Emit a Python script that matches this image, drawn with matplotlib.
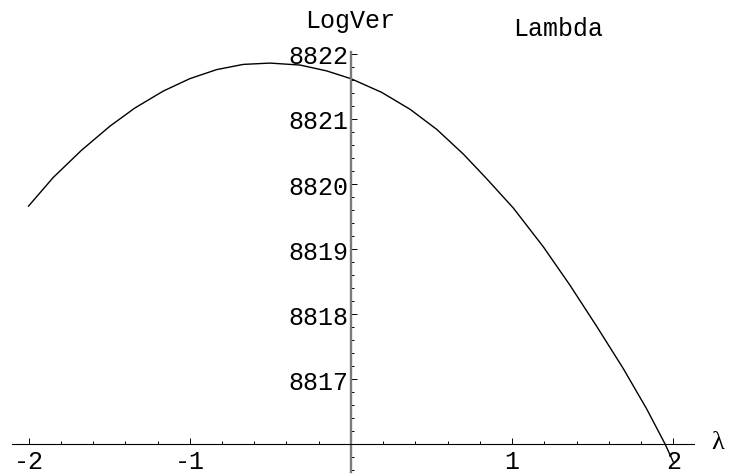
import numpy as np
import matplotlib
matplotlib.use("Agg")
import matplotlib.pyplot as plt
from matplotlib.ticker import FixedLocator

# data
lam = [-2.0, -1.847, -1.671, -1.495, -1.340, -1.164, -1.0, -0.833, -0.668, -0.502,
       -0.316, -0.151, 0.0, 0.19, 0.366, 0.532, 0.697, 0.842, 1.007, 1.194,
       1.359, 1.524, 1.689, 1.834, 1.948, 2.0]
logver = [8819.66, 8820.10, 8820.52, 8820.89, 8821.17, 8821.43, 8821.62, 8821.76,
          8821.84, 8821.86, 8821.83, 8821.74, 8821.62, 8821.41, 8821.15, 8820.84,
          8820.46, 8820.08, 8819.63, 8819.03, 8818.44, 8817.81, 8817.16, 8816.54,
          8816.0, 8815.72]
x_ticks = [-2, -1, 1, 2]
x_tick_labels = ["-2", "-1", "1", "2"]
y_ticks = [8817, 8818, 8819, 8820, 8821, 8822]
y_tick_labels = ["8817", "8818", "8819", "8820", "8821", "8822"]

MONO = "Liberation Mono"
FS = 18

fig = plt.figure(figsize=(7.31, 4.77), dpi=100)
ax = fig.add_axes([0, 0, 1, 1])
ax.patch.set_alpha(0)
ax.set_xlim(-2.177, 2.357)
ax.set_ylim(8815.508, 8822.846)

ax.plot(lam, logver, color="black", lw=1.0, solid_joinstyle="round")

# axes through origin (0, 8816)
ax.spines["left"].set_position(("data", 0))
ax.spines["bottom"].set_position(("data", 8816))
ax.spines["right"].set_visible(False)
ax.spines["top"].set_visible(False)
ax.spines["bottom"].set_bounds(-2.105, 2.125)
ax.spines["left"].set_bounds(8815.57, 8822.03)
ax.spines["left"].set_color("#7a7a7a")
ax.spines["left"].set_linewidth(1.7)
ax.spines["bottom"].set_color("black")
ax.spines["bottom"].set_linewidth(0.8)

ax.set_xticks(x_ticks)
ax.set_xticklabels(x_tick_labels, fontfamily=MONO, fontsize=FS)
ax.xaxis.set_minor_locator(FixedLocator([v for v in np.round(np.arange(-2, 2.01, 0.2), 1) if v not in x_ticks]))
ax.set_yticks(y_ticks)
ax.set_yticklabels(y_tick_labels, fontfamily=MONO, fontsize=FS)
ax.yaxis.set_minor_locator(FixedLocator([v for v in np.round(np.arange(8815.6, 8822.01, 0.2), 1) if v not in y_ticks]))

ax.tick_params(axis="both", which="major", direction="in", length=4.0, width=0.7, color="black")
ax.tick_params(axis="both", which="minor", direction="in", length=2.0, width=0.7, color="black")
ax.tick_params(axis="x", which="major", pad=3.5)
ax.tick_params(axis="y", which="major", pad=2.0)

W, H = 731, 477
fig.text(350 / W, 1 - 21 / H, "LogVer", fontfamily=MONO, fontsize=FS, ha="center", va="center")
fig.text(558 / W, 1 - 29 / H, "Lambda", fontfamily=MONO, fontsize=FS, ha="center", va="center")
fig.text(718 / W, 1 - 443 / H, "λ", fontfamily="Liberation Serif", fontsize=19, ha="center", va="center")

fig.savefig("out.png", dpi=100)
